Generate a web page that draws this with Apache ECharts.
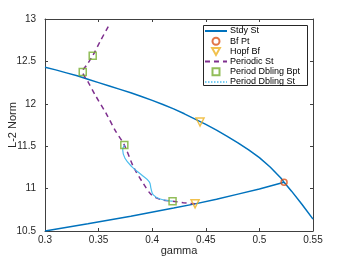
<!DOCTYPE html>
<html><head><meta charset="utf-8">
<script src="https://cdn.jsdelivr.net/npm/echarts@6/dist/echarts.min.js"></script>
<style>html,body{margin:0;padding:0;background:#fff}#c{width:346px;height:260px}</style>
</head><body><div id="c"></div>
<script>
// Steady state, upper branch
const upperGamma = [0.30, 0.31, 0.32, 0.33, 0.34, 0.35, 0.36, 0.37, 0.38, 0.39, 0.40, 0.41, 0.42, 0.43, 0.44, 0.45, 0.46, 0.47, 0.48, 0.49, 0.50, 0.51, 0.52, 0.523, 0.53, 0.54, 0.55];
const upperNorm  = [12.43, 12.40, 12.365, 12.33, 12.29, 12.25, 12.21, 12.17, 12.13, 12.087, 12.04, 11.992, 11.94, 11.882, 11.82, 11.757, 11.69, 11.617, 11.54, 11.457, 11.365, 11.255, 11.125, 11.075, 10.97, 10.81, 10.64];
// Steady state, lower branch
const lowerGamma = [0.30, 0.34, 0.38, 0.42, 0.44, 0.46, 0.48, 0.50, 0.523];
const lowerNorm  = [10.50, 10.585, 10.675, 10.77, 10.82, 10.875, 10.935, 10.995, 11.075];
// Branch point
const bfGamma = [0.523];
const bfNorm  = [11.075];
// Hopf bifurcations
const hopfGamma = [0.4446, 0.44];
const hopfNorm  = [11.785, 10.82];
// Periodic branch
const perGamma = [0.359, 0.352, 0.3445, 0.3385, 0.3355, 0.3352, 0.337, 0.3405, 0.347, 0.3575, 0.3653, 0.374, 0.3824, 0.3917, 0.3995, 0.409, 0.419, 0.429, 0.44];
const perNorm  = [12.91, 12.75, 12.567, 12.45, 12.40, 12.37, 12.32, 12.25, 12.10, 11.876, 11.69, 11.514, 11.26, 11.06, 10.925, 10.866, 10.852, 10.834, 10.82];
// Period doubling branch points
const pdGamma = [0.3445, 0.3352, 0.374, 0.419];
const pdNorm  = [12.567, 12.375, 11.514, 10.852];
// Period doubling branch
const pdsGamma = [0.374, 0.3725, 0.3746, 0.3809, 0.3902, 0.3973, 0.3989, 0.401, 0.4073, 0.4166, 0.419];
const pdsNorm  = [11.514, 11.455, 11.357, 11.26, 11.16, 11.08, 11.00, 10.925, 10.877, 10.854, 10.852];
// Axis ticks
const xMin = 0.3, xMax = 0.55, xStep = 0.05;
const yMin = 10.5, yMax = 13, yStep = 0.5;

const zip = (a, b) => a.map((v, i) => [v, b[i]]);
const axisCol = '#404040';
const font = 'Liberation Sans';

const chart = echarts.init(document.getElementById('c'), null, {renderer: 'canvas'});
const baseX = {type: 'value', min: xMin, max: xMax, interval: xStep,
  axisLine: {show: true, onZero: false, lineStyle: {color: axisCol, width: 1}},
  axisTick: {show: true, inside: true, length: 3, lineStyle: {color: axisCol}},
  splitLine: {show: false}};
const baseY = {type: 'value', min: yMin, max: yMax, interval: yStep,
  axisLine: {show: true, onZero: false, lineStyle: {color: axisCol, width: 1}},
  axisTick: {show: true, inside: true, length: 3, lineStyle: {color: axisCol}},
  splitLine: {show: false}};
const noSym = {color: 'rgba(0,0,0,0)', borderWidth: 0, opacity: 0};
const legTxt = {fontSize: 9, color: '#000', fontFamily: font, lineHeight: 9, padding: [0, 0, 0, -2]};

chart.setOption({
  backgroundColor: '#fff',
  animation: false,
  textStyle: {fontFamily: font},
  grid: {left: 45, right: 33, top: 19, bottom: 29, containLabel: false, outerBoundsMode: 'none'},
  graphic: [{type: 'rect', left: 203, top: 25, shape: {width: 104, height: 60}, z: 90,
    style: {fill: '#fff', stroke: '#262626', lineWidth: 1}}],
  xAxis: [
    Object.assign({}, baseX, {position: 'bottom', name: 'gamma', nameLocation: 'middle', nameGap: 14,
      nameMoveOverlap: false,
      nameTextStyle: {color: '#262626', fontSize: 11, fontFamily: font},
      axisLabel: {color: '#262626', fontSize: 10, margin: 4, fontFamily: font}}),
    Object.assign({}, baseX, {position: 'top', axisLabel: {show: false}})
  ],
  yAxis: [
    Object.assign({}, baseY, {position: 'left', name: 'L-2 Norm', nameLocation: 'middle', nameGap: 27, nameRotate: 90,
      nameMoveOverlap: false,
      nameTextStyle: {color: '#262626', fontSize: 11, fontFamily: font},
      axisLabel: {color: '#262626', fontSize: 10, margin: 9, fontFamily: font}}),
    Object.assign({}, baseY, {position: 'right', axisLabel: {show: false}})
  ],
  legend: {
    orient: 'vertical', left: 204, top: 26.5, z: 100,
    padding: 0, itemGap: 1.2, itemWidth: 22, itemHeight: 7,
    textStyle: legTxt,
    data: [
      {name: 'Stdy St', itemStyle: noSym},
      {name: 'Bf Pt', icon: 'circle'},
      {name: 'Hopf Bf', icon: 'path://M0,0 L10,0 L5,9 Z'},
      {name: 'Periodic St', itemStyle: noSym},
      {name: 'Period Dbling Bpt', icon: 'path://M0,0 L10,0 L10,10 L0,10 Z'},
      {name: 'Period Dbling St', itemStyle: noSym, lineStyle: {type: 'dotted', width: 1.5}}
    ]
  },
  series: [
    {name: 'Stdy St', type: 'line', data: zip(upperGamma, upperNorm), symbol: 'none',
      lineStyle: {color: '#0072BD', width: 1.5}, itemStyle: {color: '#0072BD'}, z: 2},
    {name: 'Stdy St', type: 'line', data: zip(lowerGamma, lowerNorm), symbol: 'none',
      lineStyle: {color: '#0072BD', width: 1.5}, itemStyle: {color: '#0072BD'}, z: 2},
    {name: 'Bf Pt', type: 'scatter', data: zip(bfGamma, bfNorm), symbol: 'circle', symbolSize: 6,
      itemStyle: {color: 'rgba(0,0,0,0)', borderColor: '#D95319', borderWidth: 1.5}, z: 5},
    {name: 'Hopf Bf', type: 'scatter', data: zip(hopfGamma, hopfNorm), symbol: 'triangle', symbolRotate: 180, symbolSize: 8,
      itemStyle: {color: 'rgba(0,0,0,0)', borderColor: '#EDB120', borderWidth: 1.5}, z: 5},
    {name: 'Periodic St', type: 'line', data: zip(perGamma, perNorm), symbol: 'none', smooth: 0.3,
      lineStyle: {color: '#7E2F8E', width: 1.5, type: [5, 4]}, itemStyle: {color: '#7E2F8E'}, z: 3},
    {name: 'Period Dbling Bpt', type: 'scatter', data: zip(pdGamma, pdNorm), symbol: 'rect', symbolSize: 7,
      itemStyle: {color: 'rgba(0,0,0,0)', borderColor: '#77AC30', borderWidth: 1.5}, z: 5},
    {name: 'Period Dbling St', type: 'line', data: zip(pdsGamma, pdsNorm), symbol: 'none', smooth: 0.4,
      lineStyle: {color: '#4DBEEE', width: 1.2}, itemStyle: {color: '#4DBEEE'}, z: 3}
  ]
});
</script></body></html>
